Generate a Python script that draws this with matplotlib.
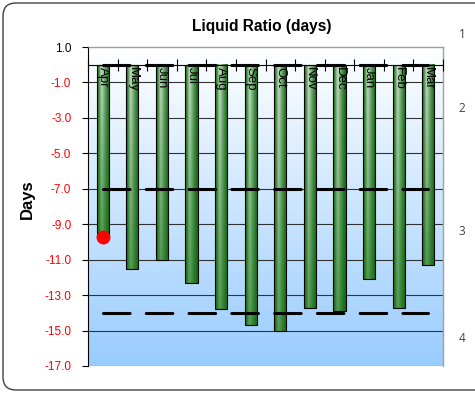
import numpy as np
import matplotlib
matplotlib.use("Agg")
import matplotlib.pyplot as plt
from matplotlib.patches import FancyBboxPatch

plt.rcParams['font.family'] = ['Liberation Sans', 'DejaVu Sans']

# data
months = ['Apr', 'May', 'Jun', 'Jul', 'Aug', 'Sep', 'Oct', 'Nov', 'Dec', 'Jan', 'Feb', 'Mar']
liquid_ratio = [-9.7, -11.5, -11.0, -12.3, -13.8, -14.7, -15.0, -13.7, -13.9, -12.1, -13.7, -11.3]
limit_zero = [0.0] * 12
limit_upper = [-7.0] * 12
limit_lower = [-14.0] * 12
current_month = ['Apr']
current_value = [-9.7]
y_ticks = [1, -1, -3, -5, -7, -9, -11, -13, -15, -17]
side_digits = ['1', '2', '3', '4']

fig = plt.figure(figsize=(4.75, 3.93), dpi=100)
fig.patch.set_facecolor('white')

# outer rounded frame (runs off the right edge)
frame = FancyBboxPatch((0.03, 0.03), 4.9, 3.87, boxstyle="round,pad=0,rounding_size=0.13",
                       transform=fig.dpi_scale_trans, facecolor='none',
                       edgecolor='#404040', linewidth=1.0, zorder=-1)
fig.patches.append(frame)

ax = fig.add_axes([88/475, 27/393, 355/475, 319/393])
ax.set_xlim(-0.5, 11.5)
ax.set_ylim(-17, 1)
ax.patch.set_alpha(0)
ax.set_axisbelow(False)

# plot area gradient white -> light blue
grad = np.linspace(0, 1, 256)[:, None]
top = np.array([1.0, 1.0, 1.0])
bot = np.array([0.6, 0.8, 1.0])
bg = top[None, None, :] * (1 - grad[..., None]) + bot[None, None, :] * grad[..., None]
ax.imshow(bg, extent=[-0.5, 11.5, -17, 1], aspect='auto', zorder=0, origin='upper')

for v in y_ticks[1:-1]:
    ax.axhline(v, color='#333333', lw=0.8, zorder=1)
ax.axhline(-17, color='#a0a0a0', lw=1.0, zorder=1)

# bars with green gradient
x = np.arange(len(months))
w = 0.41
dark = np.array([0.06, 0.43, 0.06])
light = np.array([0.80, 0.87, 0.80])
xs = np.linspace(0, 1, 40)
prof = np.clip(1 - np.abs(xs - 0.36) / np.where(xs < 0.36, 0.36, 0.64), 0, 1) ** 1.3
for xi, v in zip(x, liquid_ratio):
    ys = np.linspace(0, 1, 100)[:, None]
    k = prof[None, :] * (1 - 0.6 * ys)
    img = dark[None, None, :] * (1 - k[..., None]) + light[None, None, :] * k[..., None]
    ax.imshow(img, extent=[xi - w/2, xi + w/2, v, 0], aspect='auto', zorder=2, origin='upper')
ax.bar(x, liquid_ratio, width=w, facecolor='none', edgecolor='black', linewidth=0.8, zorder=2.1)

# limit lines
for series in (limit_zero, limit_upper, limit_lower):
    ax.plot(x, series, color='black', lw=2.2, dashes=(8.7, 5.3),
            dash_capstyle='round', zorder=3)

ax.plot([months.index(m) for m in current_month], current_value, 'o', color='#ff0000',
        markersize=9, zorder=4)

ax.set_xlim(-0.5, 11.5)
ax.set_ylim(-17, 1)

# axes styling
ax.spines['bottom'].set_position(('data', 0))
ax.spines['bottom'].set_color('black')
ax.spines['bottom'].set_linewidth(0.8)
ax.spines['left'].set_color('black')
ax.spines['left'].set_linewidth(0.8)
for s in ('top', 'right'):
    ax.spines[s].set_color('#a0a0a0')
    ax.spines[s].set_linewidth(1.0)

ax.set_xticks(np.arange(-0.5, 12, 1.0))
ax.set_xticklabels([])
ax.tick_params(axis='x', which='major', direction='inout', length=8, width=0.8, color='black')
ax.set_xticks(x, minor=True)
ax.set_xticklabels(months, minor=True, rotation=-90, fontsize=9.5)
ax.tick_params(axis='x', which='minor', length=0, pad=1.5)

ax.set_yticks(y_ticks)
ax.set_yticklabels(['%.1f' % v for v in y_ticks], fontsize=8.5)
for lbl, v in zip(ax.get_yticklabels(), y_ticks):
    lbl.set_color('black' if v >= 0 else '#ff0000')
ax.tick_params(axis='y', direction='out', length=4, width=0.8, pad=8)

fig.text(27/475, 1 - 199/393, 'Days', fontsize=12, fontweight='bold', rotation=90,
         ha='center', va='center')
fig.text(262/475, 1 - 27/393, 'Liquid Ratio (days)', fontsize=11.2, fontweight='bold',
         ha='center', va='center')

for d, yp in zip(side_digits, [35, 108, 232, 339]):
    fig.text(462/475, 1 - yp/393, d, fontsize=8.5, color='#404040', ha='center', va='center',
             family=['Open Sans', 'DejaVu Sans'])

fig.savefig('out.png', dpi=100)
